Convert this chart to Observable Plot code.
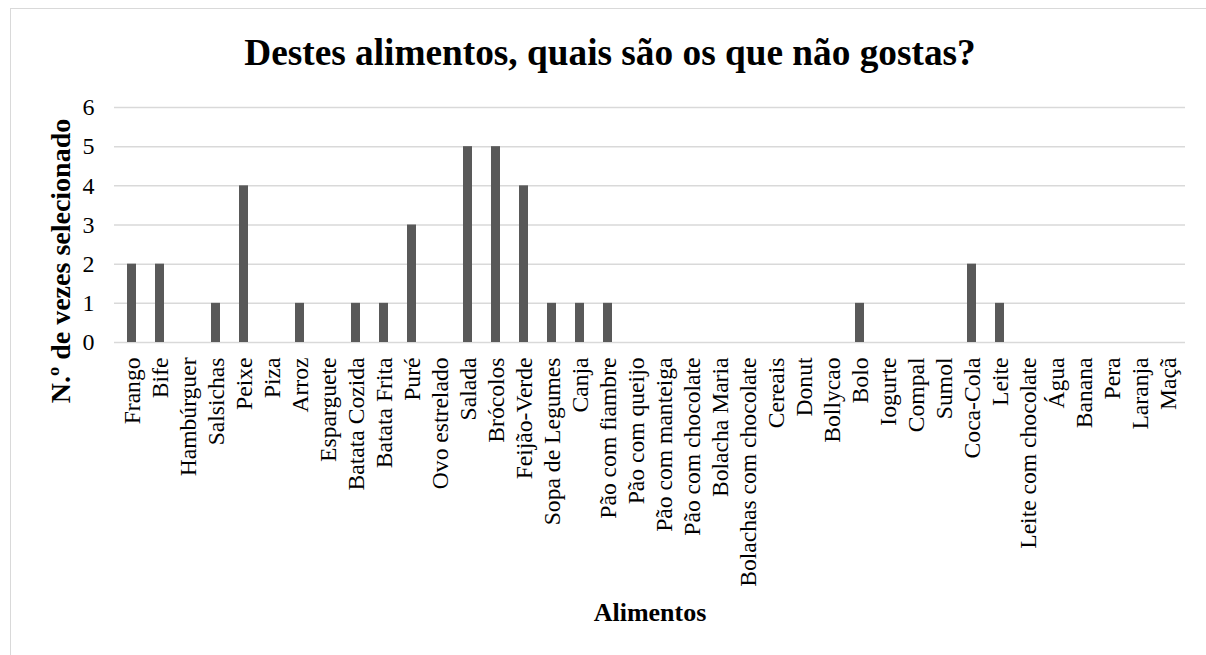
<!DOCTYPE html>
<html><head><meta charset="utf-8">
<script src="https://cdn.jsdelivr.net/npm/d3@7"></script>
<script src="https://cdn.jsdelivr.net/npm/@observablehq/plot@0.6"></script>
<style>
html,body{margin:0;padding:0;background:#fff;overflow:hidden;width:1206px;height:655px}
#frame{position:absolute;left:10px;top:8px;width:1300px;height:800px;border:1px solid #d9d9d9;box-sizing:border-box}
#title{position:absolute;left:14px;width:1192px;top:33px;text-align:center;font-family:"Liberation Serif",serif;font-weight:bold;font-size:37.3px;line-height:40px;color:#000}
#chart{position:absolute;left:0;top:0}
</style>
</head><body>
<div id="frame"></div>
<div id="chart"></div>
<div id="title">Destes alimentos, quais são os que não gostas?</div>
<script>
const categories = ["Frango","Bife","Hambúrguer","Salsichas","Peixe","Piza","Arroz","Esparguete","Batata Cozida","Batata Frita","Puré","Ovo estrelado","Salada","Brócolos","Feijão-Verde","Sopa de Legumes","Canja","Pão com fiambre","Pão com queijo","Pão com manteiga","Pão com chocolate","Bolacha Maria","Bolachas com chocolate","Cereais","Donut","Bollycao","Bolo","Iogurte","Compal","Sumol","Coca-Cola","Leite","Leite com chocolate","Água","Banana","Pera","Laranja","Maçã"];
const counts = [2,2,0,1,4,0,1,0,1,1,3,0,5,5,4,1,1,1,0,0,0,0,0,0,0,0,1,0,0,0,2,1,0,0,0,0,0,0];
const yTicks = [0,1,2,3,4,5,6];
const yLabel = "N.º de vezes selecionado";
const xLabel = "Alimentos";

const data = categories.map((c, i) => ({food: c, count: counts[i]}));

const chart = Plot.plot({
  width: 1206, height: 655,
  marginTop: 107, marginBottom: 313, marginLeft: 114, marginRight: 21,
  style: {fontFamily: "'Liberation Serif', serif", background: "transparent", color: "#000", overflow: "visible"},
  x: {domain: categories, paddingInner: 0.68, paddingOuter: 0.34},
  y: {domain: [0, 6]},
  marks: [
    Plot.ruleY(yTicks, {stroke: "#d9d9d9", strokeWidth: 1.5}),
    Plot.barY(data, {x: "food", y: "count", fill: "#595959"}),
    Plot.axisY(yTicks, {tickSize: 0, tickPadding: 20, fontSize: 24, label: null}),
    Plot.axisX({tickRotate: -90, tickSize: 0, tickPadding: 15, fontSize: 23.6, label: null}),
    Plot.text([yLabel], {text: d => d, frameAnchor: "left", textAnchor: "middle", dx: -53, dy: 36, rotate: -90, fontSize: 28, fontWeight: "bold"}),
    Plot.text([xLabel], {text: d => d, frameAnchor: "bottom", dy: 278, fontSize: 26, fontWeight: "bold"})
  ]
});
document.getElementById("chart").appendChild(chart);
</script>
</body></html>
